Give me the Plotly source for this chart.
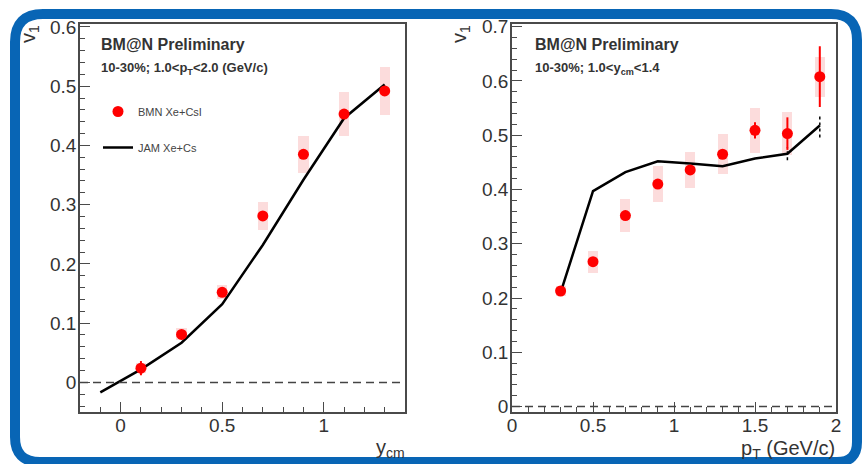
import plotly.graph_objects as go

W, H = 864, 464

# ---------------- data: left panel (v1 vs y_cm) ----------------
y_cm = [0.1, 0.3, 0.5, 0.7, 0.9, 1.1, 1.3]
bmn_v1_y = [0.024, 0.081, 0.152, 0.281, 0.385, 0.453, 0.492]
bmn_stat_y = [0.012, 0.005, 0.005, 0.005, 0.005, 0.005, 0.005]
bmn_sys_y = [0.008, 0.010, 0.012, 0.023, 0.031, 0.037, 0.040]
jam_y_cm = [-0.1, 0.1, 0.3, 0.5, 0.7, 0.9, 1.1, 1.3]
jam_v1_y = [-0.017, 0.022, 0.067, 0.132, 0.232, 0.342, 0.446, 0.503]

# ---------------- data: right panel (v1 vs pT) ----------------
pt = [0.3, 0.5, 0.7, 0.9, 1.1, 1.3, 1.5, 1.7, 1.9]
bmn_v1_pt = [0.213, 0.267, 0.352, 0.410, 0.436, 0.465, 0.509, 0.503, 0.608]
bmn_stat_pt = [0.006, 0.006, 0.006, 0.006, 0.006, 0.008, 0.015, 0.030, 0.056]
bmn_sys_pt = [0.010, 0.020, 0.030, 0.033, 0.034, 0.037, 0.041, 0.039, 0.037]
jam_v1_pt = [0.210, 0.397, 0.432, 0.452, 0.448, 0.443, 0.457, 0.466, 0.518]
jam_err_pt = [0, 0, 0, 0, 0, 0, 0, 0.012, 0.022]

RED = "#ff0000"
PINK = "#fcdcdc"
FONT = "Liberation Sans"
TXT = "#333333"
AX = "#4a4a4a"


def px(x):
    return x / W


def py(y):
    return 1 - y / H


fig = go.Figure()

# systematic boxes
fig.add_trace(go.Bar(x=y_cm, y=[2 * s for s in bmn_sys_y],
                     base=[v - s for v, s in zip(bmn_v1_y, bmn_sys_y)],
                     width=0.05, marker=dict(color=PINK, line=dict(width=0)),
                     showlegend=False, hoverinfo="skip", xaxis="x", yaxis="y"))
fig.add_trace(go.Bar(x=pt, y=[2 * s for s in bmn_sys_pt],
                     base=[v - s for v, s in zip(bmn_v1_pt, bmn_sys_pt)],
                     width=0.062, marker=dict(color=PINK, line=dict(width=0)),
                     showlegend=False, hoverinfo="skip", xaxis="x2", yaxis="y2"))

# JAM lines
fig.add_trace(go.Scatter(x=jam_y_cm, y=jam_v1_y, mode="lines",
                         line=dict(color="black", width=2.5),
                         name="JAM Xe+Cs", legendgroup="b", legendrank=2,
                         xaxis="x", yaxis="y"))
fig.add_trace(go.Scatter(x=pt, y=jam_v1_pt, mode="lines",
                         line=dict(color="black", width=2.5),
                         showlegend=False, xaxis="x2", yaxis="y2"))

# JAM dashed error bars
ex, ey = [], []
for x, v, e in zip(pt, jam_v1_pt, jam_err_pt):
    if e > 0:
        ex += [x, x, None]
        ey += [v - e, v + e, None]
fig.add_trace(go.Scatter(x=ex, y=ey, mode="lines",
                         line=dict(color="black", width=1.5, dash="3px,3px"),
                         showlegend=False, xaxis="x2", yaxis="y2"))

# BMN points with stat errors
fig.add_trace(go.Scatter(x=y_cm, y=bmn_v1_y, mode="markers",
                         marker=dict(color=RED, size=11),
                         error_y=dict(type="data", array=bmn_stat_y, color=RED,
                                      thickness=2, width=0),
                         name="BMN Xe+CsI", legendgroup="a", legendrank=1,
                         xaxis="x", yaxis="y"))
fig.add_trace(go.Scatter(x=pt, y=bmn_v1_pt, mode="markers",
                         marker=dict(color=RED, size=11),
                         error_y=dict(type="data", array=bmn_stat_pt, color=RED,
                                      thickness=2, width=0),
                         showlegend=False, xaxis="x2", yaxis="y2"))

tickfont = dict(family=FONT, size=19, color=TXT)
common = dict(showgrid=False, zeroline=False, showline=True, mirror=True,
              automargin=False,
              linecolor=AX, linewidth=1.5, ticks="inside", tickcolor=AX,
              tickwidth=1.3, ticklen=10, tickfont=tickfont)
xcommon = dict(ticklabelstandoff=-5, **common)
ycommon = dict(ticklabelstandoff=-2, **common)
ydom = [py(412), py(24)]

fig.update_layout(
    template="none",
    width=W, height=H, autosize=False,
    margin=dict(l=0, r=0, t=0, b=0, pad=0),
    paper_bgcolor="white", plot_bgcolor="white",
    barmode="overlay", bargap=0,
    xaxis=dict(domain=[px(80), px(405)], range=[-0.2, 1.4], tick0=0, dtick=0.5,
               anchor="y",
               minor=dict(dtick=0.1, ticks="inside", ticklen=5, tickcolor=AX),
               **xcommon),
    yaxis=dict(domain=ydom, range=[-0.05, 0.605], tick0=0, dtick=0.1, anchor="x",
               minor=dict(dtick=0.02, ticks="inside", ticklen=5, tickcolor=AX),
               **ycommon),
    xaxis2=dict(domain=[px(512), px(836)], range=[0, 2], tick0=0, dtick=0.5,
                anchor="y2",
                minor=dict(dtick=0.1, ticks="inside", ticklen=5, tickcolor=AX),
                **xcommon),
    yaxis2=dict(domain=ydom, range=[-0.01, 0.705], tick0=0, dtick=0.1, anchor="x2",
                minor=dict(dtick=0.02, ticks="inside", ticklen=5, tickcolor=AX),
                **ycommon),
    legend=dict(x=px(98), y=py(97), xanchor="left", yanchor="top",
                bgcolor="rgba(0,0,0,0)", tracegroupgap=17,
                font=dict(family=FONT, size=11, color="#444444")),
    showlegend=True,
)

# dashed zero lines
for xr, yr in (("x domain", "y"), ("x2 domain", "y2")):
    fig.add_shape(type="line", xref=xr, yref=yr, x0=0, x1=1, y0=0, y1=0,
                  line=dict(color="#444444", width=1.5, dash="8px,5px"))

# blue rounded frame
L, T, R, B = 15, 14, 857, 462
rtl, rtr, rbl, rbr = 28, 26, 25, 20
path = (f"M {px(L + rtl)},{py(T)} L {px(R - rtr)},{py(T)} "
        f"Q {px(R)},{py(T)} {px(R)},{py(T + rtr)} "
        f"L {px(R)},{py(B - rbr)} Q {px(R)},{py(B)} {px(R - rbr)},{py(B)} "
        f"L {px(L + rbl)},{py(B)} Q {px(L)},{py(B)} {px(L)},{py(B - rbl)} "
        f"L {px(L)},{py(T + rtl)} Q {px(L)},{py(T)} {px(L + rtl)},{py(T)} Z")
fig.add_shape(type="path", xref="paper", yref="paper", path=path,
              line=dict(color="#0865b5", width=10), layer="below")

ann = []
def a(text, x, y, size, xanchor="left", yanchor="middle", angle=0):
    ann.append(dict(text=text, x=px(x), y=py(y), xref="paper", yref="paper",
                    xanchor=xanchor, yanchor=yanchor, showarrow=False,
                    textangle=angle, font=dict(family=FONT, size=size, color=TXT)))

a("<b>BM@N Preliminary</b>", 99, 44, 16)
a("<b>10-30%; 1.0&lt;p<sub>T</sub>&lt;2.0 (GeV/c)</b>", 99, 68, 13)
a("<b>BM@N Preliminary</b>", 533, 44, 16)
a("<b>10-30%; 1.0&lt;y<sub>cm</sub>&lt;1.4</b>", 533, 68, 13)
a("v<sub>1</sub>", 30, 23, 20, xanchor="center", yanchor="top", angle=-90)
a("v<sub>1</sub>", 461, 23, 20, xanchor="center", yanchor="top", angle=-90)
a("y<sub>cm</sub>", 407, 463, 20, xanchor="right", yanchor="bottom")
a("p<sub>T</sub> (GeV/c)", 837, 464, 20, xanchor="right", yanchor="bottom")
fig.update_layout(annotations=ann)

fig.write_html("out.html",
               config={"displayModeBar": False},
               post_script="document.body.style.margin='0';"
                           "document.body.style.overflow='hidden';")
